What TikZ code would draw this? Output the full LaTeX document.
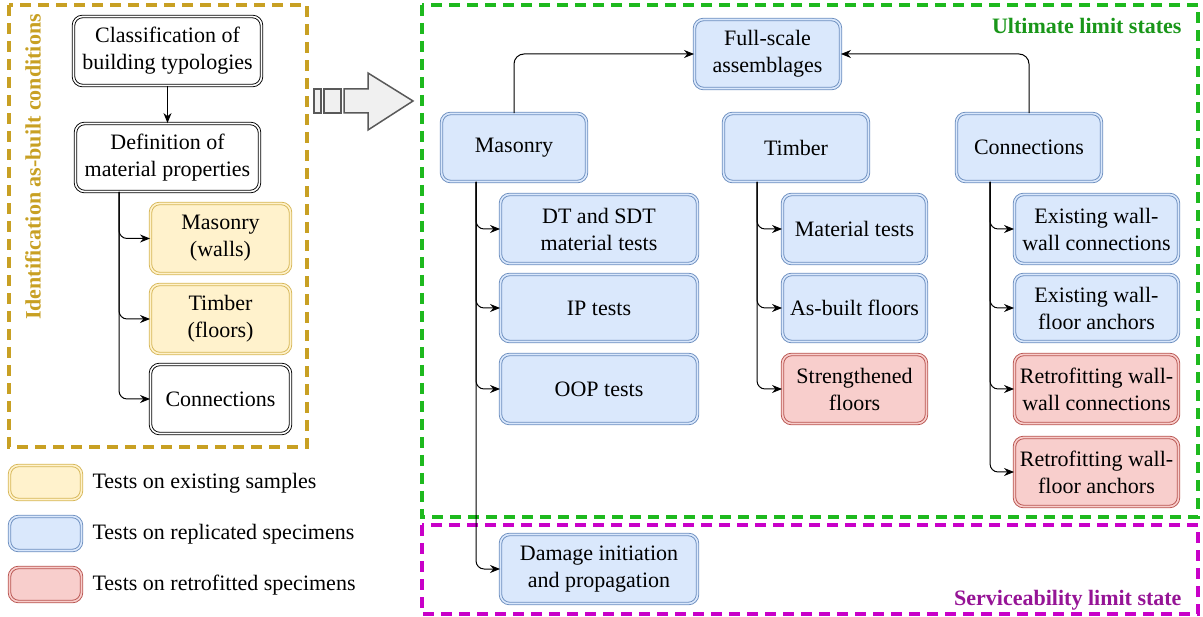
\documentclass[tikz,border=0pt]{standalone}
\usepackage{fontspec}
\setmainfont{Liberation Serif}
\usetikzlibrary{arrows.meta,calc}
\definecolor{bfill}{HTML}{DAE8FC}
\definecolor{bdraw}{HTML}{6C8EBF}
\definecolor{yfill}{HTML}{FFF2CC}
\definecolor{ydraw}{HTML}{D6B656}
\definecolor{rfill}{HTML}{F8CECC}
\definecolor{rdraw}{HTML}{B85450}
\definecolor{gold}{RGB}{200,160,35}
\definecolor{grn}{RGB}{30,185,30}
\definecolor{grntxt}{RGB}{25,150,25}
\definecolor{mag}{RGB}{200,0,200}
\definecolor{magtxt}{RGB}{150,20,150}
\tikzset{
  box/.style={rounded corners=9pt, line width=0.9pt, double distance=1.6pt,
    align=center, font=\fontsize{22}{27}\selectfont, inner sep=2pt},
  bluebox/.style={box, draw=bdraw, double=bfill, fill=bfill},
  yelbox/.style={box, draw=ydraw, double=yfill, fill=yfill},
  redbox/.style={box, draw=rdraw, double=rfill, fill=rfill},
  blkbox/.style={box, draw=black, double=white, fill=white},
  arr/.style={-{Stealth[length=10pt,width=8pt]}, line width=1pt},
  branch/.style={arr, rounded corners=8pt},
  zone/.style={line width=3.4pt, dash pattern=on 11pt off 7pt},
  zonelabel/.style={font=\fontsize{22}{26}\selectfont\bfseries},
  legtext/.style={anchor=west, font=\fontsize{22}{26}\selectfont}
}
\begin{document}
\begin{tikzpicture}[x=1pt,y=-1pt]
\useasboundingbox (0,0) rectangle (1203,617);

% zones
\draw[zone, gold] (9,5) rectangle (307,447);
\draw[zone, grn] (422,5) rectangle (1198,517);
\draw[zone, mag] (422,525) rectangle (1198,614);
\node[zonelabel, gold, rotate=90] (idlab) at (33,167) {Identification as-built conditions};
\node[zonelabel, grntxt, anchor=east] (ulslab) at (1185,26) {Ultimate limit states};
\node[zonelabel, magtxt, anchor=east] (slslab) at (1185,600) {Serviceability limit state};

% left column
\node[blkbox, minimum width=188pt, minimum height=69pt] (cls) at (167.5,51) {Classification of\\building typologies};
\node[blkbox, minimum width=184pt, minimum height=68pt] (def) at (167.5,157.5) {Definition of\\material properties};
\node[yelbox, minimum width=140pt, minimum height=70pt] (lmas) at (220.5,238.5) {Masonry\\(walls)};
\node[yelbox, minimum width=140pt, minimum height=69pt] (ltim) at (220.5,319) {Timber\\(floors)};
\node[blkbox, minimum width=140pt, minimum height=69pt] (lcon) at (220.5,399) {Connections};
\draw[arr] (cls) -- (def);
\coordinate (lt) at ($(def.south west)+(44,0)$);
\draw[branch] (lt) |- (lmas.west);
\draw[branch] (lt) |- (ltim.west);
\draw[branch] (lt) |- (lcon.west);

% big hollow arrow
\draw[line width=1.5pt, draw=gray!70!black, fill=gray!12] (314,89) rectangle (321,113);
\draw[line width=1.5pt, draw=gray!70!black, fill=gray!12] (324,89) rectangle (341,113);
\draw[line width=1.5pt, draw=gray!70!black, fill=gray!12, line join=miter]
  (344,89) -- (368,89) -- (368,73) -- (413,101) -- (368,130) -- (368,113) -- (344,113) -- cycle;

% right part
\node[bluebox, minimum width=146pt, minimum height=69pt] (fsa) at (767.5,54) {Full-scale\\assemblages};
\node[bluebox, minimum width=145pt, minimum height=68pt] (mas) at (514,147.5) {Masonry};
\node[bluebox, minimum width=145pt, minimum height=68pt] (tim) at (796,147.5) {Timber};
\node[bluebox, minimum width=145pt, minimum height=68pt] (con) at (1029,147.5) {Connections};
\draw[arr, rounded corners=10pt] (mas.north) |- (fsa.west);
\draw[arr, rounded corners=10pt] (con.north) |- (fsa.east);

\node[bluebox, minimum width=197pt, minimum height=69pt] (dt) at (599,229) {DT and SDT\\material tests};
\node[bluebox, minimum width=197pt, minimum height=67pt] (ip) at (599,308) {IP tests};
\node[bluebox, minimum width=197pt, minimum height=69pt] (oop) at (599,389) {OOP tests};
\node[bluebox, minimum width=197pt, minimum height=69pt] (dmg) at (599,569) {Damage initiation\\and propagation};

\node[bluebox, minimum width=144pt, minimum height=69pt] (mt) at (854.5,229) {Material tests};
\node[bluebox, minimum width=144pt, minimum height=67pt] (abf) at (854.5,308) {As-built floors};
\node[redbox, minimum width=144pt, minimum height=69pt] (sf) at (854.5,389) {Strengthened\\floors};

\node[bluebox, minimum width=164pt, minimum height=69pt] (ewc) at (1096.5,229) {Existing wall-\\wall connections};
\node[bluebox, minimum width=164pt, minimum height=67pt] (ewf) at (1096.5,308) {Existing wall-\\floor anchors};
\node[redbox, minimum width=164pt, minimum height=69pt] (rwc) at (1096.5,389) {Retrofitting wall-\\wall connections};
\node[redbox, minimum width=164pt, minimum height=69pt] (rwf) at (1096.5,472) {Retrofitting wall-\\floor anchors};

\coordinate (mtr) at ($(mas.south west)+(35,0)$);
\coordinate (ttr) at ($(tim.south west)+(34,0)$);
\coordinate (ctr) at ($(con.south west)+(34,0)$);
\draw[branch] (mtr) |- (dt.west);
\draw[branch] (mtr) |- (ip.west);
\draw[branch] (mtr) |- (oop.west);
\draw[branch] (mtr) |- (dmg.west);
\draw[branch] (ttr) |- (mt.west);
\draw[branch] (ttr) |- (abf.west);
\draw[branch] (ttr) |- (sf.west);
\draw[branch] (ctr) |- (ewc.west);
\draw[branch] (ctr) |- (ewf.west);
\draw[branch] (ctr) |- (rwc.west);
\draw[branch] (ctr) |- (rwf.west);

% legend
\node[yelbox, minimum width=72pt, minimum height=34pt] (ly) at (45.5,482.5) {};
\node[bluebox, minimum width=72pt, minimum height=34pt] (lb) at (45.5,533.5) {};
\node[redbox, minimum width=72pt, minimum height=34pt] (lr) at (45.5,584.5) {};
\node[legtext] (lyt) at (89,483) {Tests on existing samples};
\node[legtext] (lbt) at (89,534) {Tests on replicated specimens};
\node[legtext] (lrt) at (89,585) {Tests on retrofitted specimens};
\end{tikzpicture}
\end{document}
